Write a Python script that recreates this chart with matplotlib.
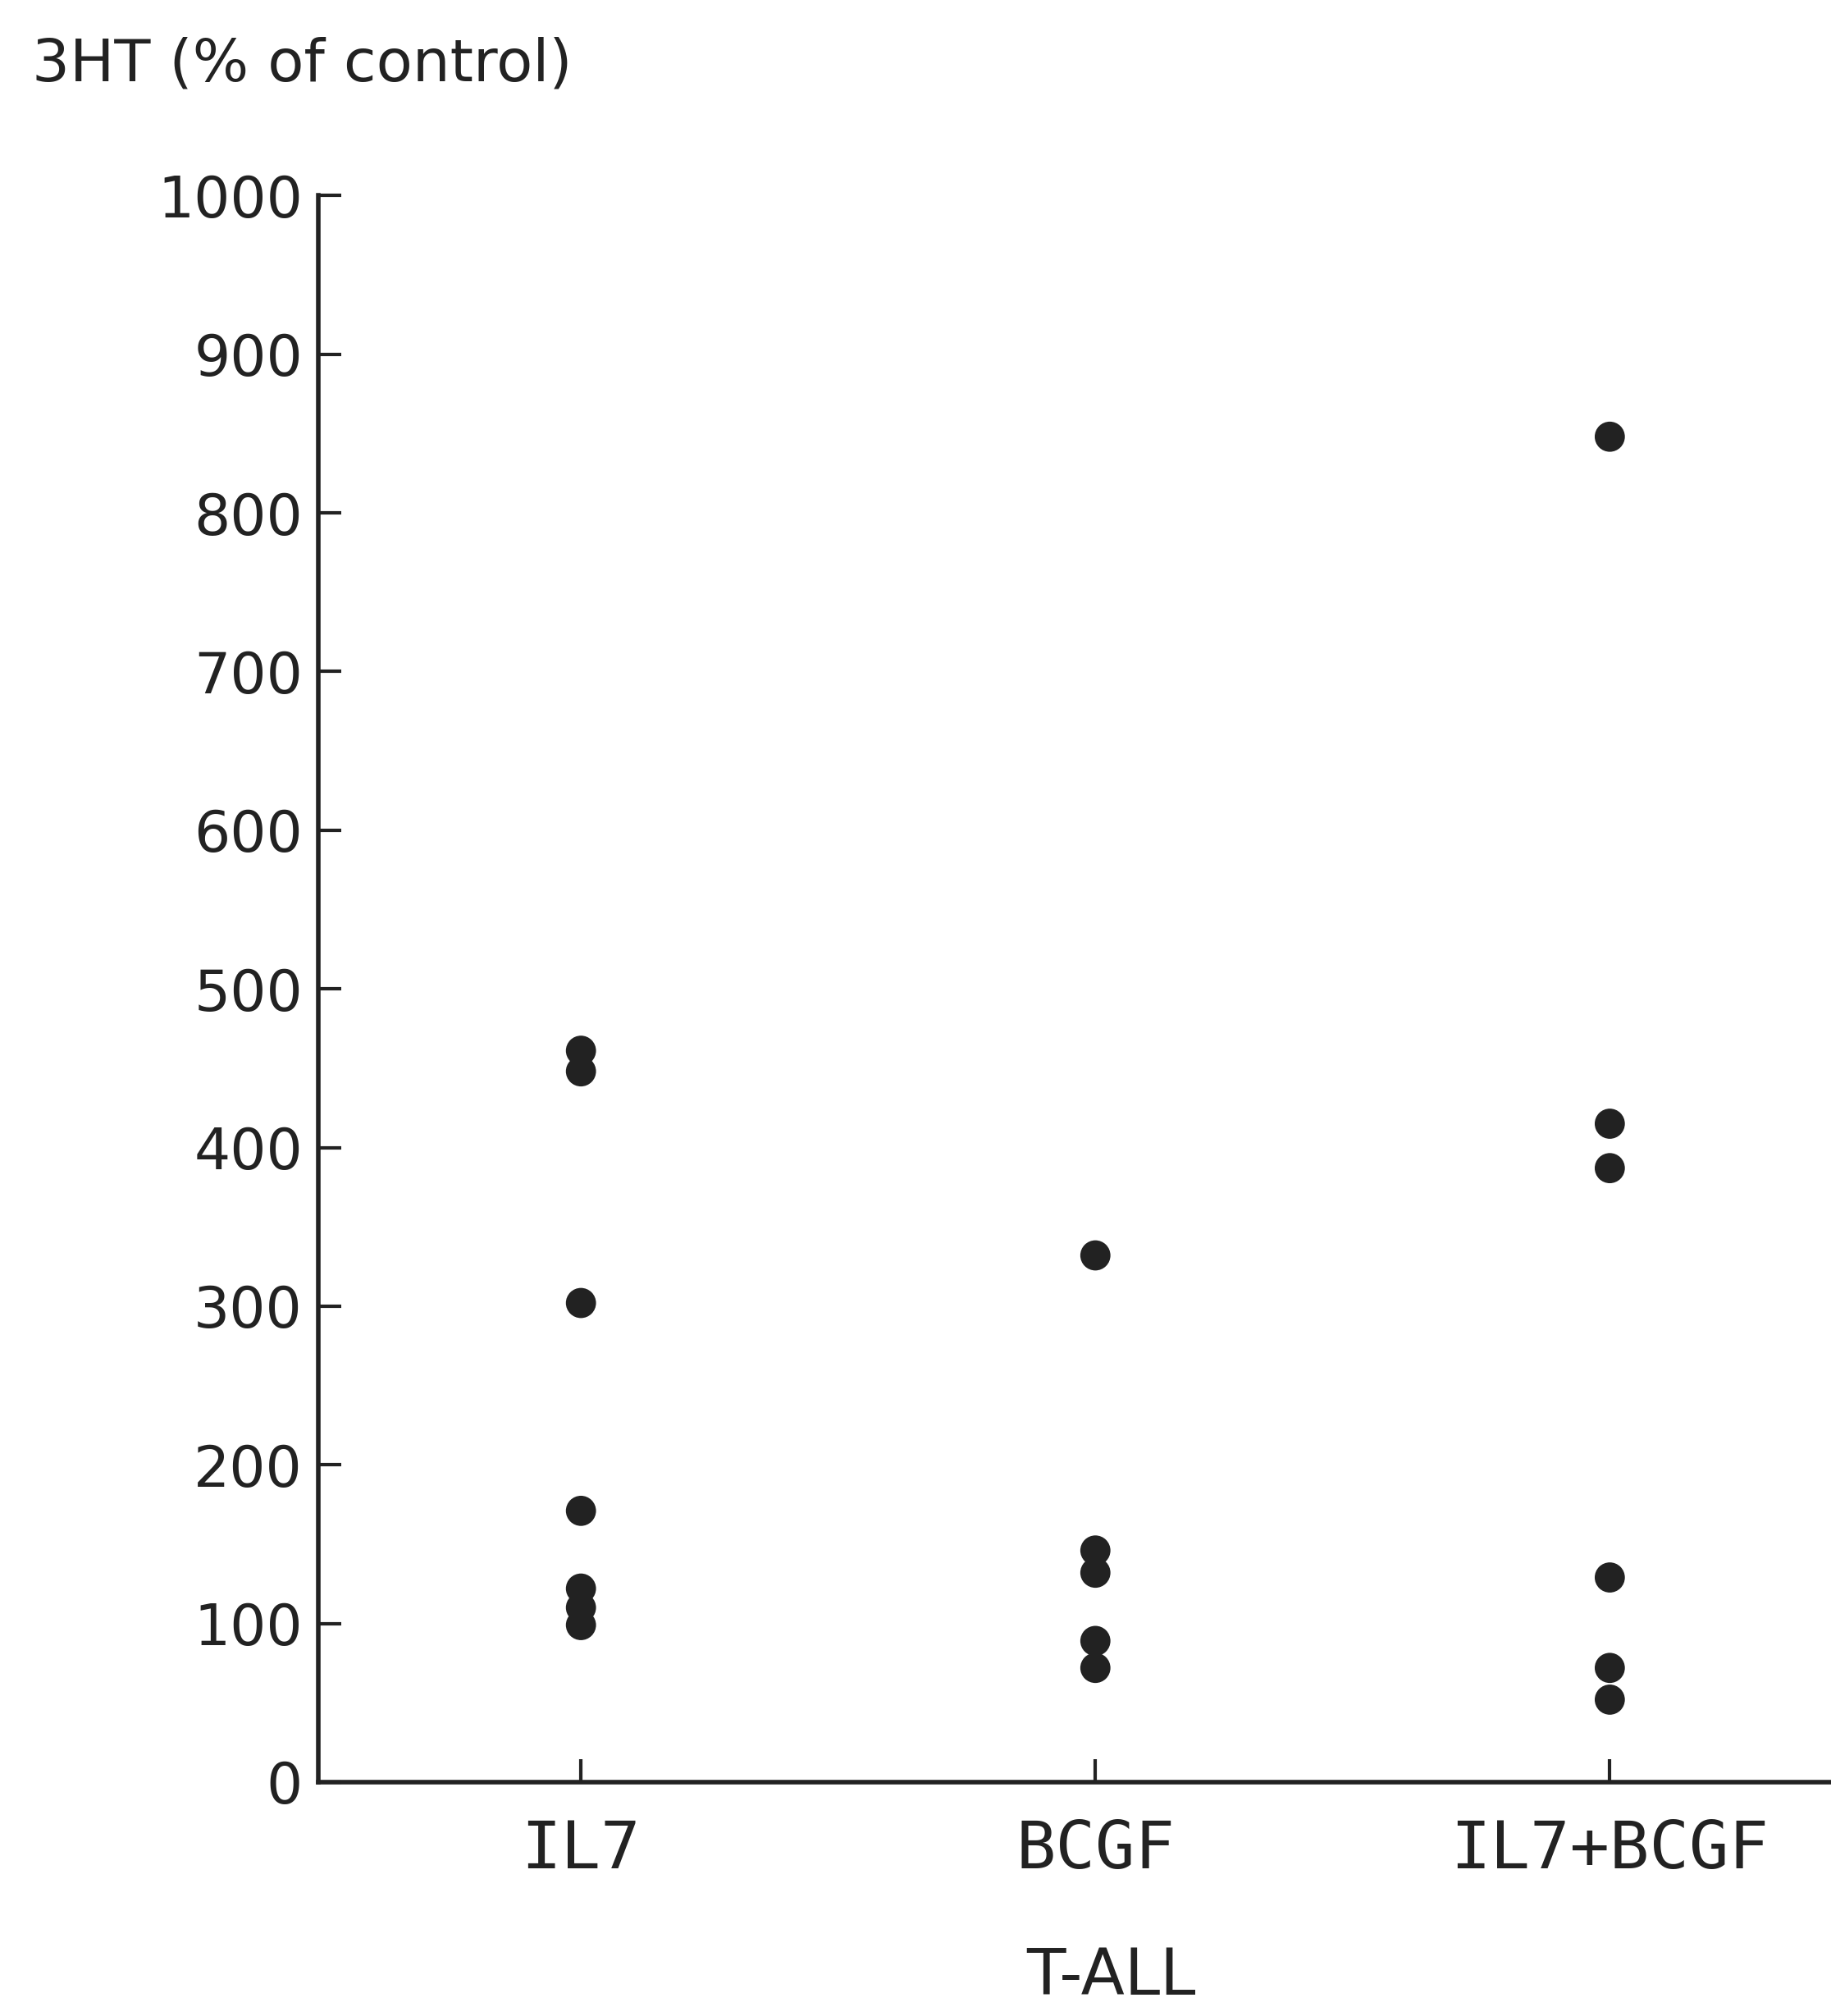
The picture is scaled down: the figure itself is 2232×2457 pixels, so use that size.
import numpy as np
import matplotlib.pyplot as plt

# values (3HT, % of control)
groups = ["IL7", "BCGF", "IL7+BCGF"]
il7 = [461, 448, 302, 171, 122, 110, 99]
bcgf = [332, 146, 132, 89, 72]
il7_bcgf = [848, 415, 387, 129, 72, 52]
y_ticks = [0, 100, 200, 300, 400, 500, 600, 700, 800, 900, 1000]

def main():
    fig = plt.figure(figsize=(11.16, 12.285), dpi=200)
    ax = fig.add_axes([0.174, 0.116, 0.826, 0.787])
    ink = "#222222"

    for i, vals in enumerate([il7, bcgf, il7_bcgf]):
        ax.scatter(np.full(len(vals), i), vals, s=175, color=ink,
                   edgecolors="none", zorder=3, clip_on=False)

    ax.set_xlim(-0.51, 2.43)
    ax.set_ylim(0, 1000)
    ax.set_yticks(y_ticks)
    ax.set_xticks(range(len(groups)))
    ax.set_xticklabels(groups, family="DejaVu Sans Mono", fontsize=29)

    for side in ["top", "right"]:
        ax.spines[side].set_visible(False)
    for side in ["left", "bottom"]:
        ax.spines[side].set_linewidth(2.0)
        ax.spines[side].set_color(ink)

    ax.tick_params(axis="y", direction="in", length=10, width=1.5,
                   pad=7, labelsize=25, colors=ink)
    ax.tick_params(axis="x", direction="in", length=10, width=1.5,
                   pad=16, colors=ink)

    # group label under the axis
    fig.text(0.607, 0.0195, "T-ALL", fontsize=28, color=ink,
             ha="center", va="center")

    fig.text(0.0176, 0.968, "3HT (% of control)", fontsize=26,
             color=ink, va="center", ha="left")

    plt.savefig("out.png", dpi=200)

main()
